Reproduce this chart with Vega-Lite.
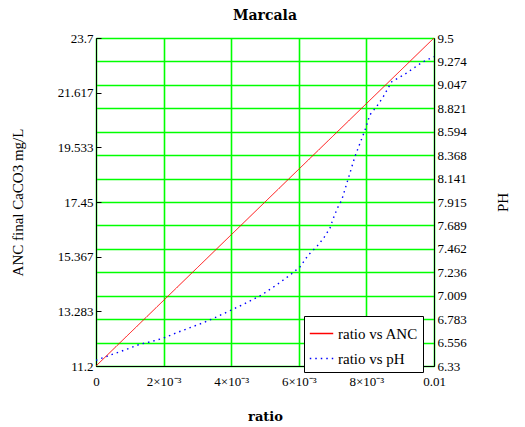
{
  "$schema": "https://vega.github.io/schema/vega-lite/v6.json",
  "description": "Marcala: ANC and pH against ratio, two y scales",
  "width": 338,
  "height": 328,
  "autosize": {"type": "none"},
  "padding": {"left": 96, "top": 38, "right": 91, "bottom": 61},
  "background": "white",
  "title": {
    "text": "Marcala",
    "font": "DejaVu Serif",
    "fontSize": 14,
    "fontWeight": "bold",
    "color": "black",
    "offset": 9
  },
  "config": {
    "view": {"stroke": "black", "strokeWidth": 1},
    "axis": {
      "labelFont": "Liberation Serif",
      "labelFontSize": 13,
      "labelColor": "black",
      "titleFont": "Liberation Serif",
      "titleColor": "black",
      "titleFontWeight": "normal",
      "titleFontSize": 15,
      "domainColor": "black",
      "tickColor": "black",
      "gridColor": "#00ff00",
      "gridWidth": 1.6,
      "gridOpacity": 1,
      "labelFlush": false,
      "labelOverlap": false
    }
  },
  "datasets": {
    "anc": [
      {"ratio": 0, "ANC": 11.2, "series": "ratio vs ANC"},
      {"ratio": 0.001, "ANC": 12.45, "series": "ratio vs ANC"},
      {"ratio": 0.002, "ANC": 13.7, "series": "ratio vs ANC"},
      {"ratio": 0.003, "ANC": 14.95, "series": "ratio vs ANC"},
      {"ratio": 0.004, "ANC": 16.2, "series": "ratio vs ANC"},
      {"ratio": 0.005, "ANC": 17.45, "series": "ratio vs ANC"},
      {"ratio": 0.006, "ANC": 18.7, "series": "ratio vs ANC"},
      {"ratio": 0.007, "ANC": 19.95, "series": "ratio vs ANC"},
      {"ratio": 0.008, "ANC": 21.2, "series": "ratio vs ANC"},
      {"ratio": 0.009, "ANC": 22.45, "series": "ratio vs ANC"},
      {"ratio": 0.01, "ANC": 23.7, "series": "ratio vs ANC"}
    ],
    "ph": [
      {"ratio": 0, "pH": 6.385, "series": "ratio vs pH"},
      {"ratio": 0.00046, "pH": 6.44, "series": "ratio vs pH"},
      {"ratio": 0.00081, "pH": 6.48, "series": "ratio vs pH"},
      {"ratio": 0.0013, "pH": 6.54, "series": "ratio vs pH"},
      {"ratio": 0.00165, "pH": 6.567, "series": "ratio vs pH"},
      {"ratio": 0.002, "pH": 6.6, "series": "ratio vs pH"},
      {"ratio": 0.00234, "pH": 6.646, "series": "ratio vs pH"},
      {"ratio": 0.00268, "pH": 6.688, "series": "ratio vs pH"},
      {"ratio": 0.00318, "pH": 6.749, "series": "ratio vs pH"},
      {"ratio": 0.00347, "pH": 6.79, "series": "ratio vs pH"},
      {"ratio": 0.00396, "pH": 6.864, "series": "ratio vs pH"},
      {"ratio": 0.00436, "pH": 6.926, "series": "ratio vs pH"},
      {"ratio": 0.0049, "pH": 7.016, "series": "ratio vs pH"},
      {"ratio": 0.00534, "pH": 7.113, "series": "ratio vs pH"},
      {"ratio": 0.00574, "pH": 7.209, "series": "ratio vs pH"},
      {"ratio": 0.00604, "pH": 7.29, "series": "ratio vs pH"},
      {"ratio": 0.00628, "pH": 7.403, "series": "ratio vs pH"},
      {"ratio": 0.00653, "pH": 7.483, "series": "ratio vs pH"},
      {"ratio": 0.00673, "pH": 7.564, "series": "ratio vs pH"},
      {"ratio": 0.00692, "pH": 7.661, "series": "ratio vs pH"},
      {"ratio": 0.00702, "pH": 7.757, "series": "ratio vs pH"},
      {"ratio": 0.00714, "pH": 7.854, "series": "ratio vs pH"},
      {"ratio": 0.00727, "pH": 7.934, "series": "ratio vs pH"},
      {"ratio": 0.00751, "pH": 8.192, "series": "ratio vs pH"},
      {"ratio": 0.00766, "pH": 8.353, "series": "ratio vs pH"},
      {"ratio": 0.00781, "pH": 8.482, "series": "ratio vs pH"},
      {"ratio": 0.00796, "pH": 8.611, "series": "ratio vs pH"},
      {"ratio": 0.0081, "pH": 8.756, "series": "ratio vs pH"},
      {"ratio": 0.0083, "pH": 8.836, "series": "ratio vs pH"},
      {"ratio": 0.0085, "pH": 8.933, "series": "ratio vs pH"},
      {"ratio": 0.00875, "pH": 9.078, "series": "ratio vs pH"},
      {"ratio": 0.0091, "pH": 9.142, "series": "ratio vs pH"},
      {"ratio": 0.00939, "pH": 9.207, "series": "ratio vs pH"},
      {"ratio": 0.00968, "pH": 9.271, "series": "ratio vs pH"},
      {"ratio": 0.01, "pH": 9.32, "series": "ratio vs pH"}
    ]
  },
  "encoding": {
    "x": {
      "field": "ratio",
      "type": "quantitative",
      "scale": {"domain": [0, 0.01], "nice": false, "zero": false},
      "axis": {
        "title": "ratio",
        "titleFont": "DejaVu Serif",
        "titleFontWeight": "bold",
        "titleFontSize": 13,
        "titlePadding": 22,
        "values": [0, 0.002, 0.004, 0.006, 0.008, 0.01],
        "labelExpr": "datum.value == 0 ? '0' : datum.value == 0.01 ? '0.01' : format(datum.value * 1000, 'd') + '×10⁻³'",
        "labelPadding": 9,
        "ticks": false,
        "grid": true
      }
    },
    "color": {
      "field": "series",
      "type": "nominal",
      "scale": {"domain": ["ratio vs ANC", "ratio vs pH"], "range": ["#ff0000", "#0000ff"]},
      "legend": {
        "title": null,
        "orient": "none",
        "legendX": 208,
        "legendY": 278,
        "strokeColor": "black",
        "fillColor": "white",
        "padding": 5,
        "symbolType": "stroke",
        "symbolSize": 550,
        "symbolStrokeWidth": 1.3,
        "labelFont": "Liberation Serif",
        "labelFontSize": 15,
        "labelColor": "black",
        "rowPadding": 4,
        "encode": {
          "symbols": {
            "update": {
              "stroke": {"signal": "datum.value == 'ratio vs pH' ? '#0000ff' : '#ff0000'"},
              "strokeDash": {"signal": "datum.value == 'ratio vs pH' ? [1.5, 4] : [1, 0]"}
            }
          }
        }
      }
    },
    "strokeDash": {
      "field": "series",
      "type": "nominal",
      "scale": {"domain": ["ratio vs ANC", "ratio vs pH"], "range": [[1, 0], [1.5, 4]]},
      "legend": null
    }
  },
  "layer": [
    {
      "data": {"name": "ph"},
      "mark": {"type": "line", "strokeWidth": 1.4, "clip": true},
      "encoding": {
        "y": {
          "field": "pH",
          "type": "quantitative",
          "scale": {"domain": [6.33, 9.5], "nice": false, "zero": false},
          "axis": {
            "orient": "right",
            "title": "PH",
            "titleAngle": 270,
            "titlePadding": 44,
            "values": [6.33, 6.556, 6.783, 7.009, 7.236, 7.462, 7.689, 7.915, 8.141, 8.368, 8.594, 8.821, 9.047, 9.274, 9.5],
            "format": ".4~f",
            "labelPadding": 3,
            "ticks": false,
            "grid": true
          }
        }
      }
    },
    {
      "data": {"name": "anc"},
      "mark": {"type": "line", "strokeWidth": 1, "clip": true},
      "encoding": {
        "y": {
          "field": "ANC",
          "type": "quantitative",
          "scale": {"domain": [11.2, 23.7], "nice": false, "zero": false},
          "axis": {
            "orient": "left",
            "title": "ANC final CaCO3 mg/L",
            "titlePadding": 32,
            "values": [11.2, 13.283, 15.367, 17.45, 19.533, 21.617, 23.7],
            "format": ".4~f",
            "tickSize": -5,
            "labelPadding": 8,
            "grid": false
          }
        }
      }
    }
  ],
  "resolve": {"scale": {"y": "independent"}}
}
